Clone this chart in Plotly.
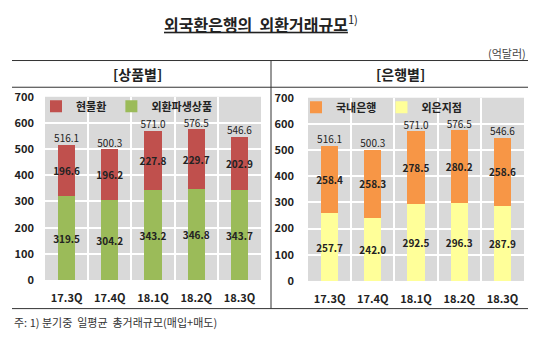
import plotly.graph_objects as go

quarters = ["17.3Q", "17.4Q", "18.1Q", "18.2Q", "18.3Q"]
spot = [196.6, 196.2, 227.8, 229.7, 202.9]
derivatives = [319.5, 304.2, 343.2, 346.8, 343.7]
product_total = [516.1, 500.3, 571.0, 576.5, 546.6]
domestic = [258.4, 258.3, 278.5, 280.2, 258.6]
foreign = [257.7, 242.0, 292.5, 296.3, 287.9]
bank_total = [516.1, 500.3, 571.0, 576.5, 546.6]
y_ticks = [0, 100, 200, 300, 400, 500, 600, 700]

W, H = 540, 349
FONT = "Noto Sans CJK KR"
TXT = "#222222"

def px(x):
    return x / W

def py(y):
    return 1 - y / H

fig = go.Figure()

fmt = lambda v: f"{v:.1f}"

def bar(x, y, name, color, xa, ya, legend, rank):
    return go.Bar(
        x=x, y=y, name=name, marker=dict(color=color, line=dict(width=0)),
        text=[fmt(v) for v in y], textposition="inside", insidetextanchor="middle",
        textangle=0, constraintext="none",
        textfont=dict(family=FONT, size=10, color=TXT, weight="bold"),
        xaxis=xa, yaxis=ya, legend=legend, legendrank=rank,
    )

fig.add_trace(bar(quarters, derivatives, "외환파생상품", "#9BBB59", "x", "y", "legend", 2))
fig.add_trace(bar(quarters, spot, "현물환", "#C0504D", "x", "y", "legend", 1))
fig.add_trace(go.Scatter(
    x=quarters, y=product_total, mode="text", text=[fmt(v) for v in product_total],
    textposition="top center", textfont=dict(family=FONT, size=10, color=TXT),
    showlegend=False, xaxis="x", yaxis="y", hoverinfo="skip"))

fig.add_trace(bar(quarters, foreign, "외은지점", "#FFFF99", "x2", "y2", "legend2", 2))
fig.add_trace(bar(quarters, domestic, "국내은행", "#F79646", "x2", "y2", "legend2", 1))
fig.add_trace(go.Scatter(
    x=quarters, y=bank_total, mode="text", text=[fmt(v) for v in bank_total],
    textposition="top center", textfont=dict(family=FONT, size=10, color=TXT),
    showlegend=False, xaxis="x2", yaxis="y2", hoverinfo="skip"))

xcommon = dict(type="category", tickson="boundaries", showgrid=True, gridcolor="white",
               gridwidth=1.5, ticks="", showline=False, zeroline=False, ticklabelstandoff=10,
               tickfont=dict(family=FONT, size=11, color=TXT, weight="bold"))
ycommon = dict(range=[0, 700], tickvals=y_ticks, showgrid=True, gridcolor="white",
               gridwidth=1.5, zeroline=False, showline=False, ticks="",
               tickfont=dict(family=FONT, size=11, color=TXT, weight="bold"))

legcommon = dict(orientation="h", bgcolor="rgba(0,0,0,0)", xanchor="left", yanchor="middle",
                 font=dict(family=FONT, size=11, color=TXT, weight="bold"),
                 itemwidth=30, traceorder="normal")

fig.update_layout(
    width=W, height=H, margin=dict(l=0, r=0, t=0, b=0),
    paper_bgcolor="white", plot_bgcolor="#D9D9D9",
    barmode="stack", bargap=0.6, showlegend=True,
    xaxis=dict(domain=[px(45), px(261)], anchor="y", **xcommon),
    yaxis=dict(domain=[py(284), py(92)], anchor="x", ticklabelstandoff=10, **ycommon),
    xaxis2=dict(domain=[px(308), px(524)], anchor="y2", **xcommon),
    yaxis2=dict(domain=[py(285), py(93)], anchor="x2", ticklabelstandoff=13, **ycommon),
    legend=dict(x=px(36), y=py(102), **legcommon),
    legend2=dict(x=px(296), y=py(103), **legcommon),
)

line = dict(color="#333333", width=1)
for (x0, y0, x1, y1) in [(12, 54, 528, 54), (12, 82, 528, 82), (12, 314, 528, 314), (271, 54, 271, 314)]:
    fig.add_shape(type="line", xref="paper", yref="paper",
                  x0=px(x0), y0=py(y0), x1=px(x1), y1=py(y1), line=line)

ann = [
    ("<b><u>외국환은행의&nbsp; 외환거래규모</u></b><sup>1)</sup>", 261, 15, 16, "center", TXT),
    ("(억달러)", 528, 46, 11, "right", "#444444"),
    ("<b>[상품별]</b>", 137, 68, 14, "center", TXT),
    ("<b>[은행별]</b>", 400, 68, 14, "center", TXT),
    ("주: 1) 분기중&nbsp; 일평균&nbsp; 총거래규모(매입+매도)", 12, 328, 11, "left", "#333333"),
]
for text, x, y, size, anchor, col in ann:
    fig.add_annotation(text=text, xref="paper", yref="paper", x=px(x), y=py(y),
                       xanchor=anchor, yanchor="middle", showarrow=False,
                       font=dict(family=FONT, size=size, color=col))

fig.write_html("out.html")
